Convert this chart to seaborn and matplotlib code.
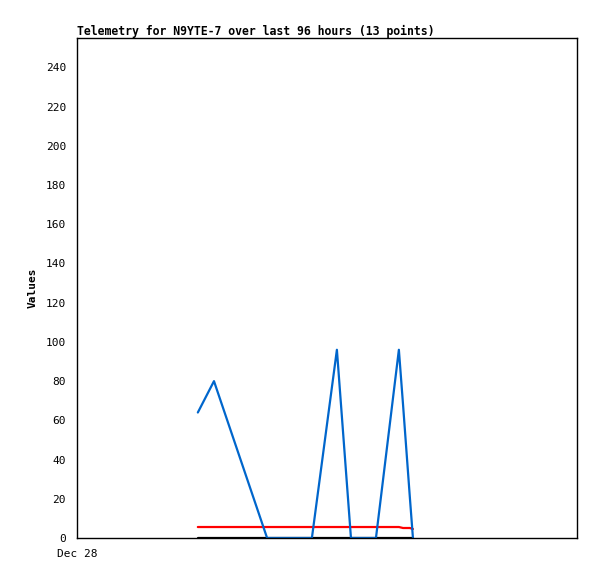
import pandas as pd
import matplotlib
matplotlib.use('Agg')
import matplotlib.pyplot as plt
import seaborn as sns

# hours since Dec 28 00:00 (x axis spans 96 hours)
hours = [23.2, 26.3, 36.5, 45.1, 49.9, 52.6, 57.4, 61.8, 62.6, 63.9, 64.5]
blue_vals = [64, 80, 0, 0, 96, 0, 0, 96, 68, 21, 0]
red_vals = [5.6, 5.6, 5.6, 5.6, 5.6, 5.6, 5.6, 5.6, 5.1, 5.1, 4.6]
black_vals = [0, 0, 0, 0, 0, 0, 0, 0, 0, 0, 0]

title = 'Telemetry for N9YTE-7 over last 96 hours (13 points)'
x_ticks = [0]
x_ticklabels = ['Dec 28']
y_ticks = [0, 20, 40, 60, 80, 100, 120, 140, 160, 180, 200, 220, 240]

df = pd.DataFrame({'hours': hours, 'blue': blue_vals, 'red': red_vals, 'black': black_vals})

sns.set_style('white')
plt.rcParams['font.family'] = ['DejaVu Sans Mono', 'DejaVu Sans']
plt.rcParams['text.color'] = 'black'
plt.rcParams['xtick.color'] = 'black'
plt.rcParams['ytick.color'] = 'black'
plt.rcParams['axes.labelcolor'] = 'black'

fig = plt.figure(figsize=(5.97, 5.79), dpi=100)
ax = fig.add_axes([77 / 597, 41 / 579, 500 / 597, 500 / 579])

sns.lineplot(x='hours', y='black', data=df, color='black', linewidth=1.6, ax=ax)
sns.lineplot(x='hours', y='red', data=df, color='#ff0000', linewidth=1.6, ax=ax)
sns.lineplot(x='hours', y='blue', data=df, color='#0066cc', linewidth=1.6, ax=ax)

ax.set_xlim(0, 96)
ax.set_ylim(0, 255)
ax.set_xticks(x_ticks)
ax.set_xticklabels(x_ticklabels, fontsize=8)
ax.set_yticks(y_ticks)
ax.set_yticklabels([str(v) for v in y_ticks], fontsize=8)
ax.tick_params(axis='both', direction='out', length=5, width=1, color='black', pad=3)
ax.tick_params(axis='x', length=6, pad=2)

for s in ax.spines.values():
    s.set_color('black')
    s.set_linewidth(1)

ax.set_xlabel('')
ax.set_ylabel('Values', fontsize=8, fontweight='bold', labelpad=6)
ax.set_title(title, loc='left', fontsize=8.3, fontweight='bold', pad=2)

fig.savefig('out.png', dpi=100, facecolor='white')
